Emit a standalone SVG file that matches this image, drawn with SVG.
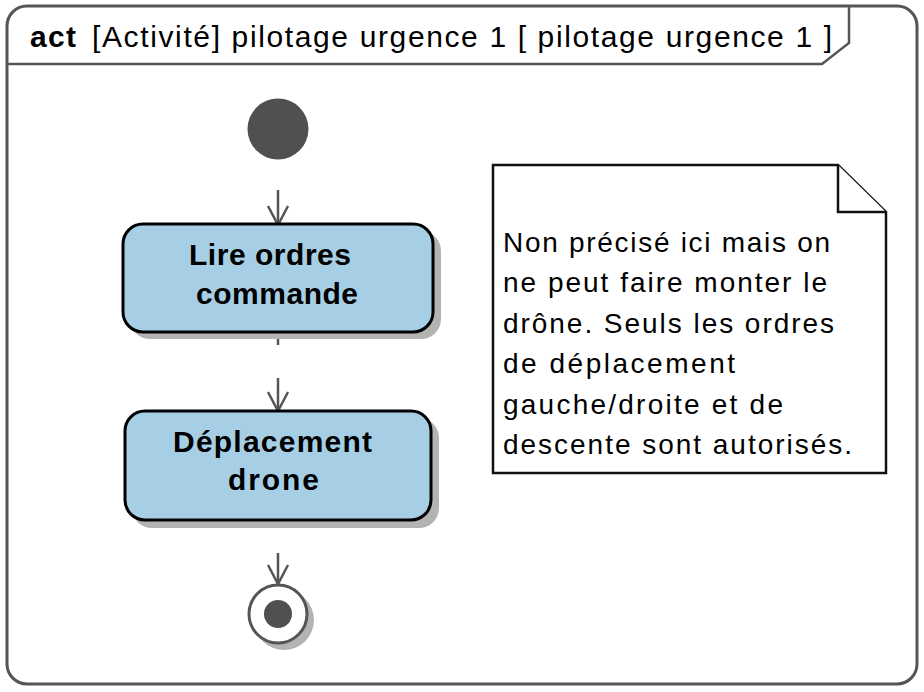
<svg xmlns="http://www.w3.org/2000/svg" width="924" height="692" viewBox="0 0 924 692">
<style>
.frame{fill:#fff;stroke:#555;stroke-width:3}
.hdr{fill:none;stroke:#555;stroke-width:2.5}
.t{font-family:"Liberation Sans",Arial,sans-serif;fill:#000}
.title{font-size:30px}
.bold{font-weight:bold}
.act{fill:#a6cfe6;stroke:#000;stroke-width:3}
.shadow{fill:#b3b3b3}
.lbl{font-size:30px;font-weight:bold}
.note{fill:#fff;stroke:#111;stroke-width:2.5}
.ntxt{font-size:28px}
.edge{fill:none;stroke:#555;stroke-width:2.5}
</style>
<defs>
<marker id="arr" markerWidth="24" markerHeight="24" viewBox="-21 -12 24 24" refX="0" refY="0" orient="auto" markerUnits="userSpaceOnUse">
<path d="M-19,-10 L0,0 L-19,10" fill="none" stroke="#555" stroke-width="2.5"/>
</marker>
</defs>
<g id="frame">
<rect class="frame" x="7" y="6" width="910" height="678" rx="20"/>
<path class="hdr" d="M7,64 L822,64 L849,43 L849,6"/>
<text class="t title bold" x="30" y="47" textLength="46" lengthAdjust="spacing">act</text>
<text class="t title" x="92" y="47" textLength="740" lengthAdjust="spacing">[Activité] pilotage urgence 1 [ pilotage urgence 1 ]</text>
</g>
<g id="connectors">
<line class="edge" x1="278" y1="190" x2="278" y2="225" marker-end="url(#arr)"/>
<line class="edge" x1="278" y1="332" x2="278" y2="345"/>
<line class="edge" x1="278" y1="378" x2="278" y2="411" marker-end="url(#arr)"/>
<line class="edge" x1="278" y1="553" x2="278" y2="584" marker-end="url(#arr)"/>
</g>
<g id="initial">
<circle cx="278" cy="129" r="30.5" fill="#505050"/>
</g>
<g id="lire">
<rect class="shadow" x="130" y="231" width="311" height="108" rx="20"/>
<rect class="act" x="123" y="224" width="310" height="108" rx="20"/>
<text class="t lbl" x="189" y="265" textLength="162" lengthAdjust="spacing">Lire ordres</text>
<text class="t lbl" x="196" y="304" textLength="162" lengthAdjust="spacing">commande</text>
</g>
<g id="deplacement">
<rect class="shadow" x="132" y="418" width="307" height="110" rx="20"/>
<rect class="act" x="125" y="411" width="306" height="109" rx="20"/>
<text class="t lbl" x="173" y="452" textLength="199" lengthAdjust="spacing">Déplacement</text>
<text class="t lbl" x="228" y="490" textLength="91" lengthAdjust="spacing">drone</text>
</g>
<g id="final">
<circle class="shadow" cx="284" cy="620" r="30"/>
<circle cx="278" cy="614" r="29" fill="#fff" stroke="#555" stroke-width="3"/>
<circle cx="278" cy="614" r="14" fill="#505050"/>
</g>
<g id="note">
<path class="note" d="M493,165 L838,165 L886,212 L886,473 L493,473 Z"/>
<path class="note" d="M838,165 L838,212 L886,212" fill="none"/>
<text class="t ntxt" x="503" y="251.5" textLength="327" lengthAdjust="spacing">Non précisé ici mais on</text>
<text class="t ntxt" x="503" y="292" textLength="324" lengthAdjust="spacing">ne peut faire monter le</text>
<text class="t ntxt" x="503" y="332.5" textLength="331" lengthAdjust="spacing">drône. Seuls les ordres</text>
<text class="t ntxt" x="503" y="373" textLength="232" lengthAdjust="spacing">de déplacement</text>
<text class="t ntxt" x="503" y="413.5" textLength="280" lengthAdjust="spacing">gauche/droite et de</text>
<text class="t ntxt" x="503" y="454" textLength="349" lengthAdjust="spacing">descente sont autorisés.</text>
</g>
</svg>
